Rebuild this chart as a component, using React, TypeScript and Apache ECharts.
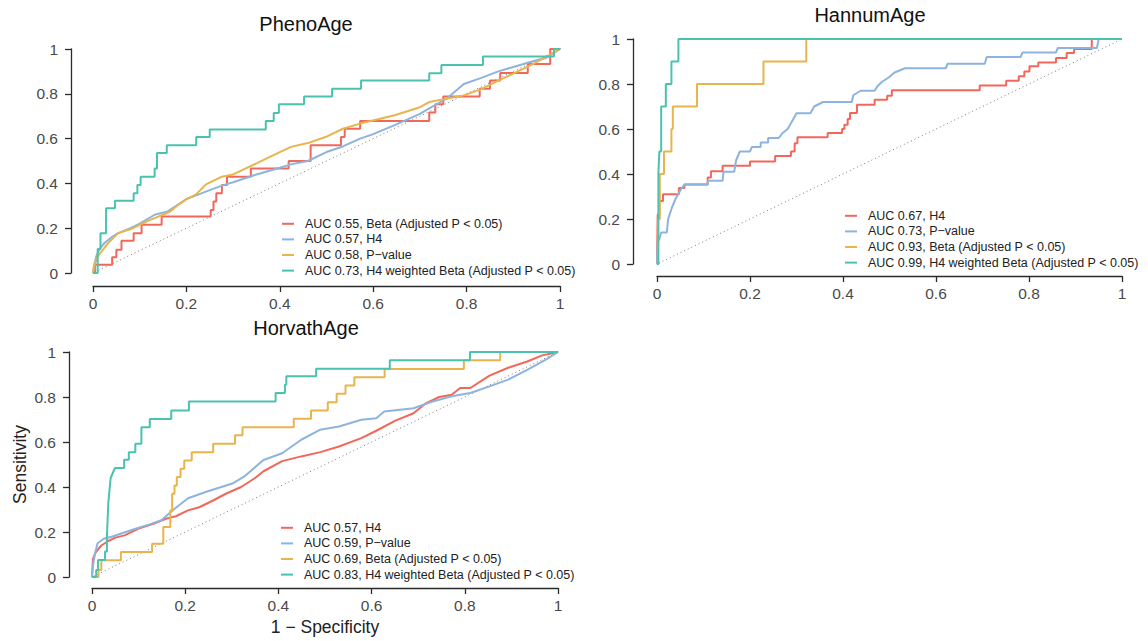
import React, { useEffect, useRef } from "react";
import * as echarts from "echarts";

const FONT = "'Liberation Sans', Arial, Helvetica, sans-serif";
const RED = "#F1685B";
const BLUE = "#8DB4DE";
const ORANGE = "#E9B44C";
const TEAL = "#4AC2AF";

const PANEL_TITLES = ["PhenoAge", "HannumAge", "HorvathAge"];
const X_AXIS_TITLE = "1 − Specificity";
const Y_AXIS_TITLE = "Sensitivity";

const PHENO_LABELS = [
  "AUC 0.55, Beta (Adjusted P < 0.05)",
  "AUC 0.57, H4",
  "AUC 0.58, P−value",
  "AUC 0.73, H4 weighted Beta (Adjusted P < 0.05)",
];
const HANNUM_LABELS = [
  "AUC 0.67, H4",
  "AUC 0.73, P−value",
  "AUC 0.93, Beta (Adjusted P < 0.05)",
  "AUC 0.99, H4 weighted Beta (Adjusted P < 0.05)",
];
const HORVATH_LABELS = [
  "AUC 0.57, H4",
  "AUC 0.59, P−value",
  "AUC 0.69, Beta (Adjusted P < 0.05)",
  "AUC 0.83, H4 weighted Beta (Adjusted P < 0.05)",
];

const DIAGONAL = [[-0.05, -0.05], [1.055, 1.055]];

// ---------- PhenoAge ----------
const PHENO_BETA = [
  [0, 0], [0.004, 0], [0.004, 0.037], [0.041, 0.037], [0.041, 0.07], [0.05, 0.07], [0.05, 0.104],
  [0.061, 0.104], [0.061, 0.144], [0.087, 0.144], [0.087, 0.178], [0.104, 0.178], [0.104, 0.215],
  [0.147, 0.215], [0.147, 0.252], [0.252, 0.252], [0.252, 0.281], [0.258, 0.281], [0.258, 0.319],
  [0.264, 0.319], [0.264, 0.356], [0.276, 0.356], [0.276, 0.393], [0.287, 0.393], [0.287, 0.43],
  [0.338, 0.43], [0.338, 0.467], [0.419, 0.467], [0.419, 0.5], [0.466, 0.5], [0.466, 0.57],
  [0.531, 0.57], [0.531, 0.607], [0.539, 0.607], [0.539, 0.644], [0.572, 0.644], [0.572, 0.679],
  [0.72, 0.679], [0.72, 0.716], [0.733, 0.716], [0.733, 0.753], [0.75, 0.753], [0.75, 0.788],
  [0.828, 0.788], [0.828, 0.822], [0.85, 0.822], [0.85, 0.859], [0.872, 0.859], [0.872, 0.893],
  [0.931, 0.893], [0.931, 0.933], [0.979, 0.933], [0.979, 1], [1, 1],
];
const PHENO_H4 = [
  [0, 0], [0.003, 0.04], [0.008, 0.08], [0.015, 0.11], [0.025, 0.135], [0.04, 0.16], [0.054, 0.178],
  [0.08, 0.2], [0.1, 0.22], [0.132, 0.26], [0.16, 0.275], [0.2, 0.33], [0.25, 0.37], [0.276, 0.39],
  [0.3, 0.405], [0.35, 0.44], [0.4, 0.47], [0.424, 0.485], [0.46, 0.5], [0.5, 0.54], [0.535, 0.565],
  [0.572, 0.6], [0.6, 0.62], [0.646, 0.66], [0.7, 0.71], [0.72, 0.735], [0.757, 0.778], [0.794, 0.844],
  [0.83, 0.87], [0.868, 0.9], [0.9, 0.92], [0.942, 0.945], [0.97, 0.96], [1, 1],
];
const PHENO_PVAL = [
  [0, 0], [0.002, 0.03], [0.01, 0.074], [0.02, 0.1], [0.032, 0.133], [0.054, 0.178], [0.08, 0.195],
  [0.12, 0.235], [0.15, 0.26], [0.165, 0.274], [0.18, 0.3], [0.2, 0.33], [0.22, 0.35], [0.243, 0.397],
  [0.276, 0.43], [0.3, 0.44], [0.35, 0.489], [0.4, 0.54], [0.424, 0.563], [0.46, 0.58], [0.498, 0.607],
  [0.535, 0.644], [0.572, 0.667], [0.646, 0.704], [0.7, 0.74], [0.72, 0.763], [0.794, 0.793],
  [0.83, 0.82], [0.868, 0.859], [0.9, 0.89], [0.942, 0.933], [0.97, 0.965], [1, 1],
];
const PHENO_H4W = [
  [0, 0], [0.01, 0], [0.01, 0.107], [0.016, 0.107], [0.016, 0.178], [0.028, 0.178], [0.028, 0.289],
  [0.047, 0.289], [0.047, 0.323], [0.087, 0.323], [0.087, 0.356], [0.095, 0.356], [0.095, 0.393],
  [0.102, 0.393], [0.102, 0.43], [0.132, 0.43], [0.132, 0.467], [0.137, 0.467], [0.137, 0.536],
  [0.158, 0.536], [0.158, 0.57], [0.221, 0.57], [0.221, 0.607], [0.25, 0.607], [0.25, 0.641],
  [0.37, 0.641], [0.37, 0.679], [0.387, 0.679], [0.387, 0.714], [0.398, 0.714], [0.398, 0.753],
  [0.452, 0.753], [0.452, 0.788], [0.512, 0.788], [0.512, 0.822], [0.574, 0.822], [0.574, 0.859],
  [0.72, 0.859], [0.72, 0.892], [0.746, 0.892], [0.746, 0.929], [0.835, 0.929], [0.835, 0.966],
  [0.987, 0.966], [0.987, 1], [1, 1],
];

// ---------- HannumAge ----------
const HANNUM_H4 = [
  [0, 0], [0.0015, 0], [0.0015, 0.22], [0.005, 0.22], [0.005, 0.28], [0.013, 0.28], [0.013, 0.31],
  [0.047, 0.31], [0.047, 0.338], [0.059, 0.338], [0.059, 0.353], [0.109, 0.353], [0.109, 0.385],
  [0.116, 0.385], [0.116, 0.412], [0.141, 0.412], [0.141, 0.437], [0.2, 0.437], [0.2, 0.456],
  [0.254, 0.456], [0.254, 0.48], [0.288, 0.48], [0.288, 0.5], [0.296, 0.5], [0.296, 0.537],
  [0.302, 0.537], [0.302, 0.563], [0.367, 0.563], [0.367, 0.582], [0.398, 0.582], [0.398, 0.6],
  [0.403, 0.6], [0.403, 0.619], [0.41, 0.619], [0.41, 0.645], [0.415, 0.645], [0.415, 0.671],
  [0.43, 0.671], [0.43, 0.708], [0.468, 0.708], [0.468, 0.73], [0.495, 0.73], [0.495, 0.748],
  [0.505, 0.748], [0.505, 0.772], [0.694, 0.772], [0.694, 0.793], [0.751, 0.793], [0.751, 0.815],
  [0.778, 0.815], [0.778, 0.834], [0.79, 0.834], [0.79, 0.856], [0.801, 0.856], [0.801, 0.879],
  [0.82, 0.879], [0.82, 0.896], [0.858, 0.896], [0.858, 0.916], [0.881, 0.916], [0.881, 0.938],
  [0.897, 0.938], [0.897, 0.956], [0.935, 0.956], [0.935, 1], [1, 1],
];
const HANNUM_PVAL = [
  [0, 0], [0.0015, 0], [0.0015, 0.1], [0.005, 0.11], [0.009, 0.14], [0.021, 0.14], [0.024, 0.2],
  [0.032, 0.25], [0.04, 0.29], [0.051, 0.33], [0.059, 0.353], [0.109, 0.353], [0.109, 0.37],
  [0.141, 0.37], [0.143, 0.41], [0.166, 0.41], [0.17, 0.46], [0.178, 0.5], [0.2, 0.5], [0.204, 0.52],
  [0.223, 0.52], [0.223, 0.54], [0.239, 0.54], [0.239, 0.56], [0.262, 0.56], [0.269, 0.58],
  [0.281, 0.6], [0.292, 0.64], [0.3, 0.67], [0.33, 0.67], [0.338, 0.7], [0.357, 0.72], [0.419, 0.72],
  [0.422, 0.75], [0.438, 0.77], [0.468, 0.77], [0.474, 0.79], [0.484, 0.81], [0.499, 0.83],
  [0.51, 0.85], [0.533, 0.87], [0.621, 0.87], [0.625, 0.89], [0.705, 0.89], [0.709, 0.92],
  [0.782, 0.92], [0.786, 0.94], [0.858, 0.94], [0.862, 0.96], [0.946, 0.96], [0.95, 1], [1, 1],
];
const HANNUM_BETA = [
  [0, 0], [0.002, 0], [0.002, 0.2], [0.006, 0.2], [0.006, 0.4], [0.015, 0.4], [0.015, 0.5],
  [0.031, 0.5], [0.031, 0.6], [0.034, 0.6], [0.034, 0.7], [0.086, 0.7], [0.086, 0.8], [0.229, 0.8],
  [0.229, 0.9], [0.321, 0.9], [0.321, 1], [1, 1],
];
const HANNUM_H4W = [
  [0, 0], [0.003, 0], [0.003, 0.4], [0.005, 0.5], [0.009, 0.5], [0.009, 0.7], [0.019, 0.7],
  [0.019, 0.8], [0.031, 0.8], [0.031, 0.9], [0.046, 0.9], [0.046, 1], [1, 1],
];

// ---------- HorvathAge ----------
const HORVATH_H4 = [
  [0, 0], [0.002, 0.08], [0.008, 0.11], [0.02, 0.14], [0.035, 0.16], [0.05, 0.175], [0.07, 0.185],
  [0.1, 0.215], [0.13, 0.235], [0.16, 0.26], [0.18, 0.27], [0.206, 0.296], [0.23, 0.31], [0.26, 0.34],
  [0.287, 0.37], [0.32, 0.4], [0.35, 0.44], [0.368, 0.47], [0.408, 0.515], [0.449, 0.536],
  [0.49, 0.555], [0.53, 0.58], [0.578, 0.617], [0.61, 0.65], [0.651, 0.695], [0.69, 0.728],
  [0.715, 0.77], [0.745, 0.8], [0.772, 0.81], [0.79, 0.84], [0.812, 0.84], [0.853, 0.895],
  [0.893, 0.93], [0.934, 0.958], [0.966, 0.985], [1, 1],
];
const HORVATH_PVAL = [
  [0, 0], [0.002, 0.05], [0.006, 0.1], [0.012, 0.15], [0.025, 0.17], [0.044, 0.18], [0.085, 0.209],
  [0.125, 0.235], [0.15, 0.254], [0.174, 0.298], [0.206, 0.35], [0.247, 0.38], [0.303, 0.417],
  [0.327, 0.447], [0.368, 0.52], [0.408, 0.55], [0.449, 0.61], [0.489, 0.654], [0.53, 0.669],
  [0.578, 0.699], [0.61, 0.706], [0.627, 0.736], [0.69, 0.75], [0.731, 0.78], [0.772, 0.803],
  [0.812, 0.818], [0.853, 0.847], [0.893, 0.877], [0.934, 0.921], [0.974, 0.966], [1, 1],
];
const HORVATH_BETA = [
  [0, 0], [0.014, 0], [0.014, 0.031], [0.02, 0.031], [0.02, 0.074], [0.062, 0.074], [0.062, 0.111],
  [0.129, 0.111], [0.129, 0.148], [0.153, 0.148], [0.153, 0.222], [0.168, 0.222], [0.168, 0.296],
  [0.172, 0.296], [0.172, 0.37], [0.177, 0.37], [0.177, 0.407], [0.182, 0.407], [0.182, 0.444],
  [0.19, 0.444], [0.19, 0.481], [0.198, 0.481], [0.198, 0.518], [0.214, 0.518], [0.214, 0.555],
  [0.26, 0.555], [0.26, 0.592], [0.307, 0.592], [0.307, 0.63], [0.323, 0.63], [0.323, 0.666],
  [0.433, 0.666], [0.433, 0.703], [0.47, 0.703], [0.47, 0.74], [0.506, 0.74], [0.506, 0.777],
  [0.525, 0.777], [0.525, 0.814], [0.544, 0.814], [0.544, 0.851], [0.563, 0.851], [0.563, 0.888],
  [0.628, 0.888], [0.628, 0.925], [0.798, 0.925], [0.798, 0.963], [0.876, 0.963], [0.876, 1], [1, 1],
];
const HORVATH_H4W = [
  [0, 0], [0.009, 0], [0.009, 0.031], [0.013, 0.031], [0.013, 0.076], [0.028, 0.076], [0.028, 0.113],
  [0.032, 0.113], [0.032, 0.18], [0.035, 0.33], [0.04, 0.44], [0.049, 0.484], [0.069, 0.484],
  [0.069, 0.521], [0.079, 0.521], [0.079, 0.555], [0.093, 0.555], [0.093, 0.592], [0.106, 0.592],
  [0.106, 0.666], [0.124, 0.666], [0.124, 0.702], [0.17, 0.702], [0.17, 0.74], [0.208, 0.74],
  [0.208, 0.78], [0.394, 0.78], [0.394, 0.818], [0.414, 0.818], [0.414, 0.855], [0.417, 0.855],
  [0.417, 0.892], [0.481, 0.892], [0.481, 0.926], [0.639, 0.926], [0.639, 0.963], [0.811, 0.963],
  [0.811, 1], [1, 1],
];

const PANELS = [
  {
    title: PANEL_TITLES[0], labels: PHENO_LABELS, series: [PHENO_BETA, PHENO_H4, PHENO_PVAL, PHENO_H4W],
    grid: { left: 93, top: 49, width: 467, height: 224 }, xOffset: 13, yOffset: 22,
    titlePos: { x: 306, y: 14 }, legendPos: { left: 282, top: 216 }, axisNames: false,
  },
  {
    title: PANEL_TITLES[1], labels: HANNUM_LABELS, series: [HANNUM_H4, HANNUM_PVAL, HANNUM_BETA, HANNUM_H4W],
    grid: { left: 657, top: 39, width: 465, height: 225 }, xOffset: 12, yOffset: 24,
    titlePos: { x: 870, y: 5 }, legendPos: { left: 845, top: 208 }, axisNames: false,
  },
  {
    title: PANEL_TITLES[2], labels: HORVATH_LABELS, series: [HORVATH_H4, HORVATH_PVAL, HORVATH_BETA, HORVATH_H4W],
    grid: { left: 92, top: 352, width: 466, height: 225 }, xOffset: 11, yOffset: 23,
    titlePos: { x: 306, y: 318 }, legendPos: { left: 281, top: 520 }, axisNames: true,
  },
];
const COLORS = [RED, BLUE, ORANGE, TEAL];

const fmt = (v: number) => String(Math.round(v * 10) / 10);

function buildOption() {
  const axisStyle = { color: "#2b2b2b", width: 1.3 };
  const grid: any[] = [];
  const xAxis: any[] = [];
  const yAxis: any[] = [];
  const series: any[] = [];
  const legend: any[] = [];
  const title: any[] = [];

  PANELS.forEach((p, i) => {
    grid.push({ ...p.grid, containLabel: false });
    xAxis.push({
      type: "value", gridIndex: i, min: 0, max: 1, interval: 0.2, offset: p.xOffset,
      axisLine: { show: true, onZero: false, lineStyle: axisStyle },
      axisTick: { show: true, length: 6, lineStyle: axisStyle },
      axisLabel: { fontSize: 15.5, color: "#4a4a4a", fontFamily: FONT, margin: 9, formatter: fmt },
      splitLine: { show: false },
      name: p.axisNames ? X_AXIS_TITLE : "",
      nameLocation: "middle", nameGap: 30,
      nameTextStyle: { fontSize: 17.5, color: "#222", fontFamily: FONT },
    });
    yAxis.push({
      type: "value", gridIndex: i, min: 0, max: 1, interval: 0.2, offset: p.yOffset,
      axisLine: { show: true, onZero: false, lineStyle: axisStyle },
      axisTick: { show: true, length: 6, lineStyle: axisStyle },
      axisLabel: { fontSize: 15.5, color: "#4a4a4a", fontFamily: FONT, margin: 13, formatter: fmt },
      splitLine: { show: false },
      name: p.axisNames ? Y_AXIS_TITLE : "",
      nameLocation: "middle", nameGap: 40,
      nameTextStyle: { fontSize: 17.5, color: "#222", fontFamily: FONT },
    });
    series.push({
      type: "line", xAxisIndex: i, yAxisIndex: i, data: DIAGONAL, showSymbol: false, symbol: "none",
      clip: false, silent: true, z: 1,
      lineStyle: { color: "#7a7a7a", width: 1, type: [1, 3] },
    });
    p.series.forEach((d, k) => {
      series.push({
        type: "line", name: p.labels[k], xAxisIndex: i, yAxisIndex: i, data: d,
        showSymbol: false, symbol: "none", clip: false, z: 2 + k,
        lineStyle: { color: COLORS[k], width: 2 }, itemStyle: { color: COLORS[k] },
      });
    });
    legend.push({
      orient: "vertical", left: p.legendPos.left, top: p.legendPos.top, padding: 0, itemGap: 0,
      itemWidth: 12, itemHeight: 2, icon: "rect", selectedMode: false,
      textStyle: { fontSize: 12.5, color: "#222", fontFamily: FONT, lineHeight: 15.6, padding: [0, 0, 0, 6] },
      data: p.labels.map((n, k) => ({ name: n, itemStyle: { color: COLORS[k] }, lineStyle: { color: COLORS[k] } })),
    });
    title.push({
      text: p.title, left: p.titlePos.x, top: p.titlePos.y, textAlign: "center", padding: 0,
      textStyle: { fontSize: 20, fontWeight: "normal", color: "#111", fontFamily: FONT },
    });
  });

  return { animation: false, backgroundColor: "#ffffff", grid, xAxis, yAxis, series, legend, title };
}

export default function App() {
  const ref = useRef<HTMLDivElement>(null);
  useEffect(() => {
    if (!ref.current) return;
    const chart = echarts.init(ref.current, null, { renderer: "svg" });
    chart.setOption(buildOption());
    return () => chart.dispose();
  }, []);
  return (
    <div
      ref={ref}
      style={{ position: "absolute", left: 0, top: 0, width: 1148, height: 641, background: "#fff" }}
    />
  );
}
